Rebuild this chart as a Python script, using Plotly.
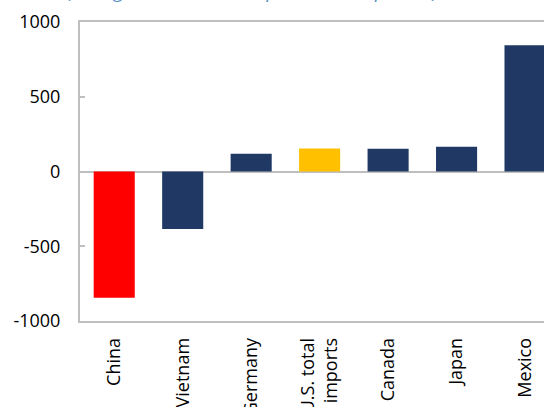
import plotly.graph_objects as go

categories = ["China", "Vietnam", "Germany", "U.S. total<br>imports", "Canada", "Japan", "Mexico"]
values = [-845, -385, 118, 154, 152, 166, 845]
bar_colors = ["#FF0000", "#1F3864", "#1F3864", "#FFC000", "#1F3864", "#1F3864", "#1F3864"]
y_ticks = [-1000, -500, 0, 500, 1000]
y_tick_labels = ["-1000", "-500", "0", "500", "1000"]
boundaries = [0.5, 1.5, 2.5, 3.5, 4.5, 5.5, 6.5]
title_text = "(change, US$ million, Sep 2023 vs. Sep 2022)"

AX = "#BFBFBF"
FONT = "Open Sans"

fig = go.Figure()
fig.add_trace(go.Bar(
    x=list(range(len(categories))),
    y=values,
    marker=dict(color=bar_colors, line=dict(width=0)),
    width=0.6,
    showlegend=False,
    hoverinfo="skip",
))

xr = [-0.5, 6.277]

fig.update_layout(
    width=544, height=407,
    margin=dict(l=80, r=0, t=22, b=86, autoexpand=False),
    paper_bgcolor="white", plot_bgcolor="white",
    bargap=0.4,
    font=dict(family=FONT, size=18, color="black"),
    xaxis=dict(
        range=xr,
        automargin=False,
        tickmode="array",
        tickvals=list(range(len(categories))),
        ticktext=categories,
        tickangle=-90,
        ticks="",
        showgrid=False, zeroline=False,
        showline=True, mirror=True, linecolor=AX, linewidth=1.5,
        tickfont=dict(family=FONT, size=18, color="black"),
        ticklabelstandoff=8,
    ),
    xaxis2=dict(
        overlaying="x",
        anchor="free",
        position=0.5,
        range=xr,
        automargin=False,
        tickmode="array",
        tickvals=boundaries,
        ticks="inside",
        ticklen=6,
        tickwidth=1.5,
        tickcolor=AX,
        showticklabels=False,
        showgrid=False, zeroline=False,
        showline=False,
    ),
    yaxis=dict(
        range=[-1000, 1000],
        automargin=False,
        tickmode="array",
        tickvals=y_ticks,
        ticktext=y_tick_labels,
        ticks="inside",
        ticklen=5,
        tickwidth=1.5,
        tickcolor=AX,
        showgrid=False,
        zeroline=True, zerolinecolor=AX, zerolinewidth=2,
        showline=True, mirror=False, linecolor=AX, linewidth=2,
        tickfont=dict(family=FONT, size=18, color="black"),
        ticklabelstandoff=14,
    ),
    annotations=[dict(
        text="<i>" + title_text + "</i>",
        xref="paper", yref="paper",
        x=0, y=1.0, xanchor="left", yanchor="bottom",
        xshift=-15,
        yshift=16,
        showarrow=False,
        font=dict(family=FONT, size=19, color="#5B8FC7"),
    )],
)

fig.write_html("out.html")
